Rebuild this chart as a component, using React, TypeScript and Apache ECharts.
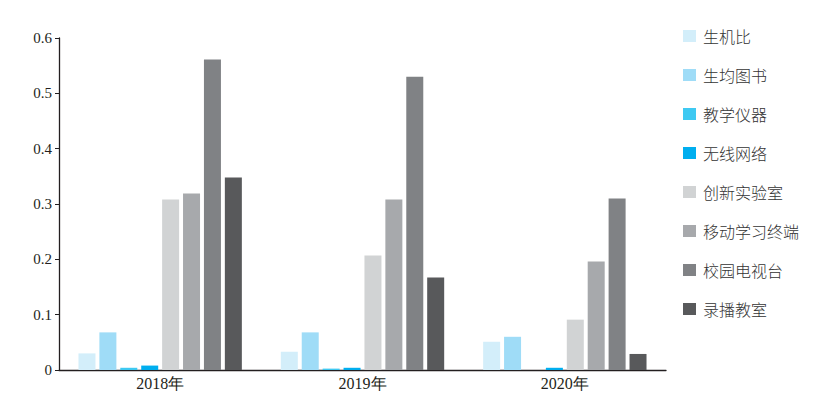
import React, { useEffect, useRef } from "react";
import * as echarts from "echarts";

const categories = ["2018年", "2019年", "2020年"];
const seriesNames = ["生机比", "生均图书", "教学仪器", "无线网络", "创新实验室", "移动学习终端", "校园电视台", "录播教室"];
const colors = ["#d3eefa", "#9fdcf7", "#3ec9f2", "#00aeef", "#d1d3d4", "#a7a9ac", "#808285", "#58595b"];
const values2018 = [0.030, 0.068, 0.004, 0.008, 0.308, 0.319, 0.561, 0.348];
const values2019 = [0.033, 0.068, 0.0025, 0.004, 0.207, 0.308, 0.530, 0.167];
const values2020 = [0.051, 0.060, 0, 0.004, 0.091, 0.196, 0.310, 0.029];
const yTicks = [0, 0.1, 0.2, 0.3, 0.4, 0.5, 0.6];

export default function App() {
  const ref = useRef<HTMLDivElement>(null);
  useEffect(() => {
    if (!ref.current) return;
    const chart = echarts.init(ref.current, null, { renderer: "svg" });
    const rows = [values2018, values2019, values2020];
    chart.setOption({
      animation: false,
      backgroundColor: "#ffffff",
      grid: { left: 59, right: 168, top: 38, bottom: 37, containLabel: false },
      legend: {
        orient: "vertical",
        left: 678,
        top: 23,
        itemWidth: 13,
        itemHeight: 12,
        itemGap: 23,
        icon: "rect",
        data: seriesNames,
        textStyle: { fontFamily: "Noto Sans CJK SC", fontSize: 16, color: "#333333", fontWeight: 300, padding: [0, 0, 0, 2] },
      },
      xAxis: {
        type: "category",
        data: categories,
        axisLine: { lineStyle: { color: "#231f20", width: 1.3 } },
        axisTick: { show: false },
        axisLabel: { fontFamily: "Liberation Serif", fontSize: 16, color: "#231f20", margin: 5 },
      },
      yAxis: {
        type: "value",
        min: yTicks[0],
        max: yTicks[yTicks.length - 1],
        interval: 0.1,
        splitLine: { show: false },
        axisLine: { show: true, lineStyle: { color: "#231f20", width: 1.3 } },
        axisTick: { show: true, length: 4, lineStyle: { color: "#231f20" } },
        axisLabel: {
          fontFamily: "Liberation Serif",
          fontSize: 15,
          color: "#231f20",
          margin: 7,
          formatter: (v: number) => (v === 0 ? "0" : v.toFixed(1)),
        },
      },
      series: seriesNames.map((name, i) => ({
        name,
        type: "bar",
        data: rows.map((r) => r[i]),
        itemStyle: { color: colors[i] },
        barWidth: 17,
        barGap: "23%",
      })),
    });
    return () => chart.dispose();
  }, []);
  return <div ref={ref} style={{ position: "absolute", left: 0, top: 0, width: 834, height: 407 }} />;
}
